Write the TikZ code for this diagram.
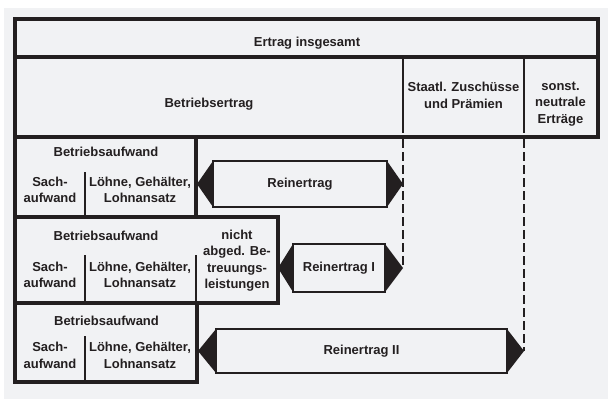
\documentclass[tikz,border=0pt]{standalone}
\usepackage{fontspec}
\setmainfont{Liberation Sans}
\usepackage{xcolor}
\definecolor{ink}{HTML}{231F20}
\definecolor{paper}{HTML}{F1F2F4}

\begin{document}
\begin{tikzpicture}[x=1pt, y=-1pt,
    frame/.style={draw=ink, line width=3.2pt},
    rule/.style={draw=ink, line width=1.5pt},
    gap/.style={draw=ink, line width=2pt, dash pattern=on 9pt off 4pt},
    txt/.style={font=\bfseries\fontsize{13}{16.5}\selectfont, text=ink, align=center, inner sep=0pt},
    body/.style={txt, draw=ink, line width=1.2pt, fill=paper, outer sep=0pt},
    tip/.style={fill=ink}]

    \useasboundingbox (0,0) rectangle (610,401);
    \fill[paper] (4,8) rectangle (608,399);

    \draw[rule] (403,57) -- (403,133);
    \draw[rule] (524,57) -- (524,133);
    \draw[frame] (15,19) rectangle (598,57);
    \draw[frame] (15,57) rectangle (598,137);

    \node(ertrag) [txt] at (307,43.5) {Ertrag insgesamt};
    \node(betriebsertrag) [txt] at (209,104.5) {Betriebsertrag};
    \node(staatl) [txt] at (463.5,95.5) {Staatl. Zuschüsse\\und Prämien};
    \node(sonst) [txt] at (560.5,104) {sonst.\\neutrale\\Erträge};

    \coordinate(staatl-foot) at (403,139);
    \coordinate(sonst-foot) at (524,139);

    \draw[rule] (85,172) -- (85,217);
    \draw[frame] (15,137) rectangle (196,217);
    \node(aufwand1) [txt] at (106,151.5) {Betriebsaufwand};
    \node(sach1) [txt] at (50,190) {Sach-\\aufwand};
    \node(loehne1) [txt] at (140,190) {Löhne, Gehälter,\\Lohnansatz};

    \draw[rule] (85,255) -- (85,303);
    \draw[rule] (196,255) -- (196,303);
    \draw[frame] (15,217) rectangle (278,303);
    \node(aufwand2) [txt] at (106,235.5) {Betriebsaufwand};
    \node(sach2) [txt] at (50,275) {Sach-\\aufwand};
    \node(loehne2) [txt] at (140,275) {Löhne, Gehälter,\\Lohnansatz};
    \node(nicht) [txt] at (237,260.5) {nicht\\abged. Be-\\treuungs-\\leistungen};

    \draw[rule] (85,336) -- (85,382);
    \draw[frame] (15,303) rectangle (197,382);
    \node(aufwand3) [txt] at (106.5,321) {Betriebsaufwand};
    \node(sach3) [txt] at (50,355.5) {Sach-\\aufwand};
    \node(loehne3) [txt] at (140,355.5) {Löhne, Gehälter,\\Lohnansatz};

    \node(rein) [body, minimum width=174pt, minimum height=46pt] at (300,184) {Reinertrag};
    \coordinate(rein-l) at (197,184);
    \coordinate(rein-r) at (403,184);
    \node(reinI) [body, minimum width=92pt, minimum height=48pt] at (339,268) {Reinertrag I};
    \coordinate(reinI-l) at (278,268);
    \coordinate(reinI-r) at (403,268);
    \node(reinII) [body, minimum width=291pt, minimum height=44pt] at (361.5,351) {Reinertrag II};
    \coordinate(reinII-l) at (198,351);
    \coordinate(reinII-r) at (524,351);

    \draw[gap] (staatl-foot) -- (reinI-r);
    \draw[gap] (sonst-foot) -- (reinII-r);

    \fill[tip] (rein.north west) -- (rein-l) -- (rein.south west) -- cycle;
    \fill[tip] (rein.north east) -- (rein-r) -- (rein.south east) -- cycle;
    \fill[tip] (reinI.north west) -- (reinI-l) -- (reinI.south west) -- cycle;
    \fill[tip] (reinI.north east) -- (reinI-r) -- (reinI.south east) -- cycle;
    \fill[tip] (reinII.north west) -- (reinII-l) -- (reinII.south west) -- cycle;
    \fill[tip] (reinII.north east) -- (reinII-r) -- (reinII.south east) -- cycle;
\end{tikzpicture}
\end{document}
